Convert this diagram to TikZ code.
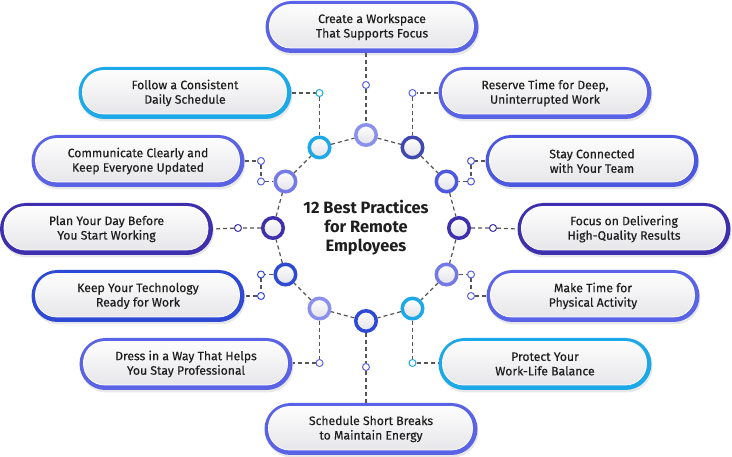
\documentclass[tikz,border=0pt]{standalone}
\usepackage{fontspec}
\setmainfont{Fira Sans}[UprightFeatures={FakeBold=0.35}]
\usetikzlibrary{calc,shadows}
\definecolor{cMid}{HTML}{5A63E5}
\definecolor{cBlue}{HTML}{2E49D6}
\definecolor{cInd}{HTML}{3D2FAE}
\definecolor{cCyan}{HTML}{1DA8E8}
\definecolor{cLav}{HTML}{8A90EE}
\definecolor{cSlate}{HTML}{4048B0}
\definecolor{cLight}{HTML}{7479E8}
\definecolor{cStay}{HTML}{4C58E0}
\definecolor{ink}{HTML}{1E1E1E}
\definecolor{dashgray}{HTML}{555555}
\definecolor{boxgray}{HTML}{E4E4E8}
\definecolor{ringgray}{HTML}{E2E2E8}
\pgfdeclarelayer{bg}
\pgfsetlayers{bg,main}
\begin{document}
\begin{tikzpicture}[x=1pt,y=-1pt,
 pill/.style={fill=#1, rounded corners=26pt, minimum width=213pt, minimum height=52pt,
   align=center, font=\fontsize{12.2}{14.5}\selectfont, text=ink, inner sep=0pt,
   drop shadow={opacity=0.18, shadow xshift=1pt, shadow yshift=-2.5pt},
   path picture={\path[top color=white, bottom color=boxgray, draw=white, line width=0.7pt, rounded corners=21pt]
     ([shift={(4,3.5)}]path picture bounding box.north west) rectangle
     ([shift={(-5,-5)}]path picture bounding box.south east);}},
 ring/.style={circle, draw=#1, line width=3.5pt, minimum size=20.5pt, inner sep=0pt,
   top color=white, bottom color=ringgray},
 dot/.style={circle, draw=#1, line width=1pt, fill=white, minimum size=7pt, inner sep=0pt},
 link/.style={draw=dashgray, line width=1.2pt, dash pattern=on 4pt off 3pt}]
\useasboundingbox (0,0) rectangle (732,457);
\coordinate (O) at (366,228);

% boxes
\node[pill=cMid]  (b1)  at (372,27)  {Create a Workspace\\That Supports Focus};
\node[pill=cMid]  (b2)  at (545,93)  {Reserve Time for Deep,\\Uninterrupted Work};
\node[pill=cStay] (b3)  at (592,161) {Stay Connected\\with Your Team};
\node[pill=cInd]  (b4)  at (624,229) {Focus on Delivering\\High-Quality Results};
\node[pill=cMid]  (b5)  at (593,296) {Make Time for\\Physical Activity};
\node[pill=cCyan] (b6)  at (545,364) {Protect Your\\Work-Life Balance};
\node[pill=cMid]  (b7)  at (371,429) {Schedule Short Breaks\\to Maintain Energy};
\node[pill=cMid]  (b8)  at (186,364) {Dress in a Way That Helps\\You Stay Professional};
\node[pill=cBlue] (b9)  at (138,296) {Keep Your Technology\\Ready for Work};
\node[pill=cInd]  (b10) at (106.5,229) {Plan Your Day Before\\You Start Working};
\node[pill=cMid]  (b11) at (138,161) {Communicate Clearly and\\Keep Everyone Updated};
\node[pill=cCyan] (b12) at (185,93)  {Follow a Consistent\\Daily Schedule};

% ring circles (y axis points down, so angles are negated)
\node[ring=cLav]   (c1)  at ($(O)+(-90:93)$)  {};
\node[ring=cSlate] (c2)  at ($(O)+(-60:93)$)  {};
\node[ring=cStay]  (c3)  at ($(O)+(-30:93)$)  {};
\node[ring=cInd]   (c4)  at ($(O)+(0:93)$)   {};
\node[ring=cLight] (c5)  at ($(O)+(30:93)$) {};
\node[ring=cCyan]  (c6)  at ($(O)+(60:93)$) {};
\node[ring=cBlue]  (c7)  at ($(O)+(90:93)$) {};
\node[ring=cLav]   (c8)  at ($(O)+(120:93)$) {};
\node[ring=cBlue]  (c9)  at ($(O)+(150:93)$) {};
\node[ring=cInd]   (c10) at ($(O)+(180:93)$) {};
\node[ring=cLight] (c11) at ($(O)+(210:93)$) {};
\node[ring=cCyan]  (c12) at ($(O)+(240:93)$) {};

% small dots
\node[dot=cMid]  (s1)  at (366,85) {};
\node[dot=cMid]  (s2)  at (c2 |- b2) {};
\node[dot=cStay] (s3a) at (471,161) {};
\node[dot=cStay] (s3b) at (c3 -| s3a) {};
\node[dot=cInd]  (s4)  at (493,228) {};
\node[dot=cMid]  (s5a) at (c5 -| s3a) {};
\node[dot=cMid]  (s5b) at (471,296) {};
\node[dot=cCyan] (s6)  at (c6 |- 0,363) {};
\node[dot=cMid]  (s7)  at (366,367) {};
\node[dot=cMid]  (s8)  at (c8 |- 0,363) {};
\node[dot=cBlue] (s9a) at (c9 -| 261,0) {};
\node[dot=cBlue] (s9b) at (261,296) {};
\node[dot=cInd]  (s10) at (238,228) {};
\node[dot=cMid]  (s11a) at (261,161) {};
\node[dot=cMid]  (s11b) at (c11 -| s11a) {};
\node[dot=cCyan] (s12) at (c12 |- b12) {};

% title
\node[font=\fontsize{16.4}{19}\selectfont\bfseries, align=center, text=ink] (title) at (O) {12 Best Practices\\for Remote\\Employees};

\begin{pgfonlayer}{bg}
\draw[link] (c1) -- (c2) -- (c3) -- (c4) -- (c5) -- (c6) -- (c7) -- (c8) -- (c9) -- (c10) -- (c11) -- (c12) -- (c1);
\draw[link] (s1 |- b1.south) -- (s1) -- (c1);
\draw[link] (b2.west) -- (s2) -- (c2);
\draw[link] (b3.west) -- (s3a) -- (s3b) -- (c3);
\draw[link] (c4) -- (s4) -- (b4.west);
\draw[link] (c5) -- (s5a) -- (s5b) -- (b5.west);
\draw[link] (c6) -- (s6) -- (b6.west |- s6);
\draw[link] (c7) -- (s7) -- (s7 |- b7.north);
\draw[link] (c8) -- (s8) -- (b8.east |- s8);
\draw[link] (c9) -- (s9a) -- (s9b) -- (b9.east);
\draw[link] (c10) -- (s10) -- (b10.east);
\draw[link] (b11.east) -- (s11a) -- (s11b) -- (c11);
\draw[link] (b12.east) -- (s12) -- (c12);
\end{pgfonlayer}
\end{tikzpicture}
\end{document}
